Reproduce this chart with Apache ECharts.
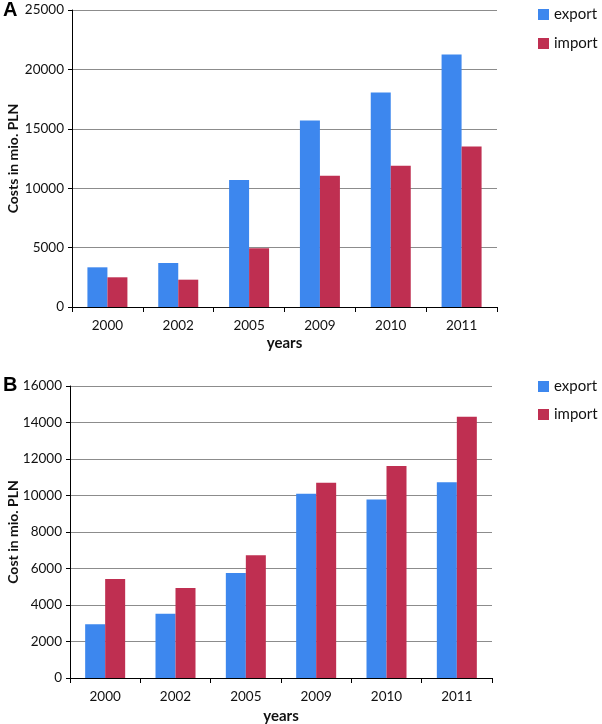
<!DOCTYPE html>
<html><head><meta charset="utf-8">
<script src="https://cdn.jsdelivr.net/npm/echarts@6/dist/echarts.min.js"></script>
<style>html,body{margin:0;padding:0;background:#fff}#c{width:602px;height:724px}</style>
</head><body><div id="c"></div>
<script>
const years = ['2000','2002','2005','2009','2010','2011'];
const exportA = [3340, 3700, 10700, 15700, 18050, 21250];
const importA = [2500, 2300, 4950, 11050, 11900, 13500];
const exportB = [2940, 3520, 5750, 10090, 9780, 10730];
const importB = [5420, 4930, 6730, 10700, 11620, 14320];
const seriesNames = ['export', 'import'];
const yTitleA = 'Costs in mio. PLN';
const yTitleB = 'Cost in mio. PLN';
const xTitle = 'years';

const FONT = 'Lato';
const BLUE = '#3d87ee';
const RED = '#bf2f51';

function xAx(gi, gap) {
  return {
    type: 'category', gridIndex: gi, data: years,
    name: xTitle, nameLocation: 'middle', nameGap: gap, nameMoveOverlap: false,
    nameTextStyle: {fontFamily: FONT, fontSize: 15, fontWeight: 'bold', color: '#111'},
    axisLine: {lineStyle: {color: '#000', width: 1}},
    axisTick: {show: true, length: 5, lineStyle: {color: '#000'}},
    axisLabel: {fontFamily: FONT, fontSize: 13.5, color: '#111', margin: 12},
    splitLine: {show: false}
  };
}
function yAx(gi, max, interval, name, gap) {
  return {
    type: 'value', gridIndex: gi, min: 0, max: max, interval: interval,
    name: name, nameLocation: 'middle', nameGap: gap, nameMoveOverlap: false,
    nameTextStyle: {fontFamily: FONT, fontSize: 14, fontWeight: 'bold', color: '#111'},
    axisLine: {show: true, lineStyle: {color: '#000', width: 1}},
    axisTick: {show: true, length: 4, lineStyle: {color: '#000'}},
    axisLabel: {fontFamily: FONT, fontSize: 13.5, color: '#111', margin: 8,
      formatter: function (v) { return String(v); }},
    splitLine: {show: true, lineStyle: {color: '#8c8c8c', width: 1}}
  };
}
function bar(name, data, gi, color) {
  return {
    name: name, type: 'bar', xAxisIndex: gi, yAxisIndex: gi, data: data,
    barWidth: 20, barGap: '0%', itemStyle: {color: color}
  };
}
function legend(top, gap) {
  return {
    data: seriesNames, orient: 'vertical', left: 533, top: top,
    itemWidth: 11, itemHeight: 11, itemGap: gap, icon: 'rect',
    textStyle: {fontFamily: FONT, fontSize: 15, color: '#111'}
  };
}

const chart = echarts.init(document.getElementById('c'), null, {renderer: 'canvas'});
chart.setOption({
  animation: false,
  backgroundColor: '#fff',
  title: [
    {text: 'A', left: 3, top: 0, padding: 0, textStyle: {fontFamily: 'Liberation Sans', fontSize: 20, fontWeight: 'bold', color: '#000'}},
    {text: 'B', left: 3, top: 375, padding: 0, textStyle: {fontFamily: 'Liberation Sans', fontSize: 20, fontWeight: 'bold', color: '#000'}}
  ],
  legend: [legend(2, 14), legend(374, 13)],
  grid: [
    {left: 72, top: 10, width: 425, height: 297, outerBoundsMode: 'none', containLabel: false},
    {left: 70, top: 386, width: 422, height: 292, outerBoundsMode: 'none', containLabel: false}
  ],
  xAxis: [xAx(0, 29), xAx(1, 31)],
  yAxis: [yAx(0, 25000, 5000, yTitleA, 52), yAx(1, 16000, 2000, yTitleB, 50)],
  series: [
    bar(seriesNames[0], exportA, 0, BLUE),
    bar(seriesNames[1], importA, 0, RED),
    bar(seriesNames[0], exportB, 1, BLUE),
    bar(seriesNames[1], importB, 1, RED)
  ]
});
</script></body></html>
